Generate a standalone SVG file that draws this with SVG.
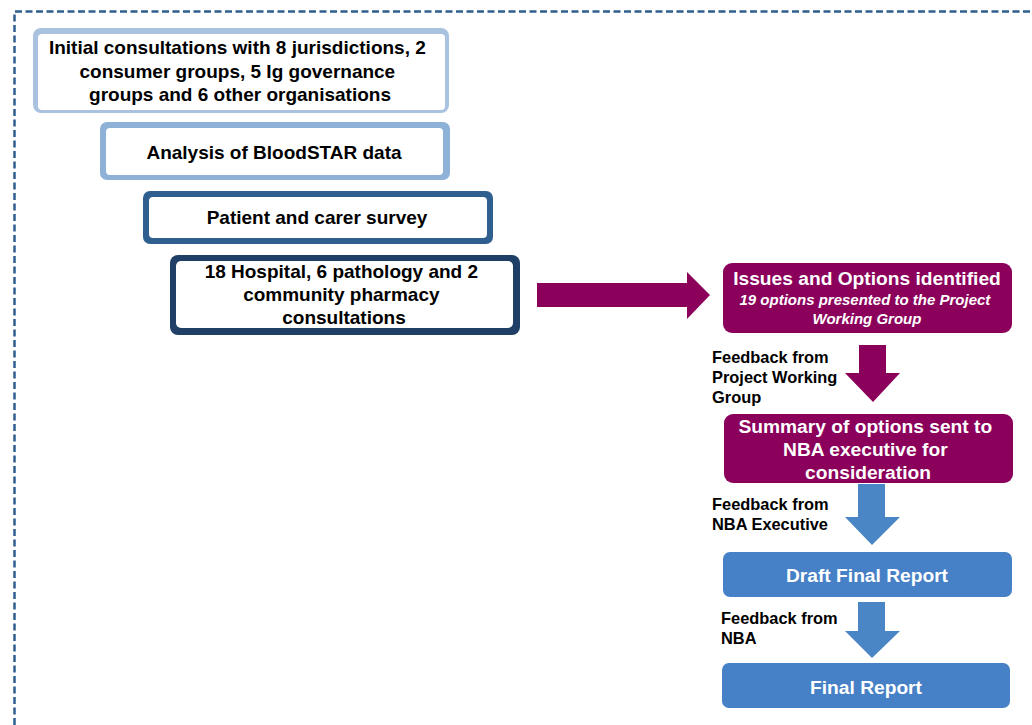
<svg xmlns="http://www.w3.org/2000/svg" width="1032" height="725" viewBox="0 0 1032 725">
  <style>
    .t { font-family: "Liberation Sans", Arial, sans-serif; font-weight: bold; }
    .dark { fill: #000; font-size: 19px; }
    .lbl { fill: #000; font-size: 16.4px; }
    .w { fill: #fff; font-size: 19.2px; }
    .wi { fill: #fff; font-size: 15px; font-style: italic; }
    .inner { fill: #fff; }
  </style>
  <rect width="1032" height="725" fill="#fff"/>
  <!-- dashed frame -->
  <path d="M14.5,725 V11.5 H1040" fill="none" stroke="#2f5f8e" stroke-width="2.5" stroke-dasharray="7,3.5"/>

  <g id="node-initial">
    <rect x="33" y="28" width="416" height="85" rx="8" fill="#a9c2df"/>
    <rect class="inner" x="38" y="34" width="407" height="76" rx="4"/>
    <text class="t dark" text-anchor="middle">
      <tspan x="240" y="54">Initial consultations with 8 jurisdictions, 2</tspan>
      <tspan x="240" y="78">consumer groups, 5 Ig governance</tspan>
      <tspan x="240" y="101">groups and 6 other organisations</tspan>
    </text>
  </g>

  <g id="node-bloodstar">
    <rect x="100" y="122" width="350" height="58" rx="7" fill="#8eb1d8"/>
    <rect class="inner" x="106" y="128" width="337" height="47" rx="4"/>
    <text class="t dark" x="274" y="159" text-anchor="middle">Analysis of BloodSTAR data</text>
  </g>

  <g id="node-survey">
    <rect x="143" y="191" width="350" height="53" rx="7" fill="#2e5f8f"/>
    <rect class="inner" x="149" y="197" width="338" height="41" rx="4"/>
    <text class="t dark" x="317" y="224" text-anchor="middle">Patient and carer survey</text>
  </g>

  <g id="node-hospital">
    <rect x="170" y="255" width="350" height="80" rx="8" fill="#1f3f66"/>
    <rect class="inner" x="176" y="261" width="337" height="67" rx="5"/>
    <text class="t dark" text-anchor="middle">
      <tspan x="344" y="278">18 Hospital, 6 pathology and 2</tspan>
      <tspan x="344" y="301">community pharmacy</tspan>
      <tspan x="344" y="324">consultations</tspan>
    </text>
  </g>

  <g id="node-issues">
    <rect x="723" y="263" width="289" height="70" rx="9" fill="#8b005b"/>
    <text class="t w" x="867" y="285" text-anchor="middle">Issues and Options identified</text>
    <text class="t wi" text-anchor="middle">
      <tspan x="867" y="305">19 options presented to the Project</tspan>
      <tspan x="867" y="324">Working Group</tspan>
    </text>
  </g>

  <g id="node-summary">
    <rect x="724" y="414" width="289" height="69" rx="9" fill="#8b005b"/>
    <text class="t w" text-anchor="middle">
      <tspan x="868" y="433">Summary of options sent to</tspan>
      <tspan x="868" y="456">NBA executive for</tspan>
      <tspan x="868" y="479">consideration</tspan>
    </text>
  </g>

  <g id="node-draft">
    <rect x="723" y="552" width="289" height="45" rx="7" fill="#4680c6"/>
    <text class="t w" x="867" y="582" text-anchor="middle">Draft Final Report</text>
  </g>

  <g id="node-final">
    <rect x="722" y="663" width="288" height="45" rx="7" fill="#4680c6"/>
    <text class="t w" x="866" y="694" text-anchor="middle">Final Report</text>
  </g>

  <g id="connectors">
    <path d="M537,283 H687 V272 L710,295 L687,319 V307 H537 Z" fill="#8b005b"/>
    <path d="M859,345 H886 V373 H900 L873,402 L845,373 H859 Z" fill="#8b005b"/>
    <path d="M858,484 H885 V517 H900 L872,545 L845,517 H858 Z" fill="#4a86c5"/>
    <path d="M858,602 H885 V631 H900 L872,658 L845,631 H858 Z" fill="#4a86c5"/>
  </g>

  <g id="labels">
    <text class="t lbl">
      <tspan x="712" y="363">Feedback from</tspan>
      <tspan x="712" y="383">Project Working</tspan>
      <tspan x="712" y="403">Group</tspan>
    </text>
    <text class="t lbl">
      <tspan x="712" y="510">Feedback from</tspan>
      <tspan x="712" y="530">NBA Executive</tspan>
    </text>
    <text class="t lbl">
      <tspan x="721" y="624">Feedback from</tspan>
      <tspan x="721" y="644">NBA</tspan>
    </text>
  </g>
</svg>
